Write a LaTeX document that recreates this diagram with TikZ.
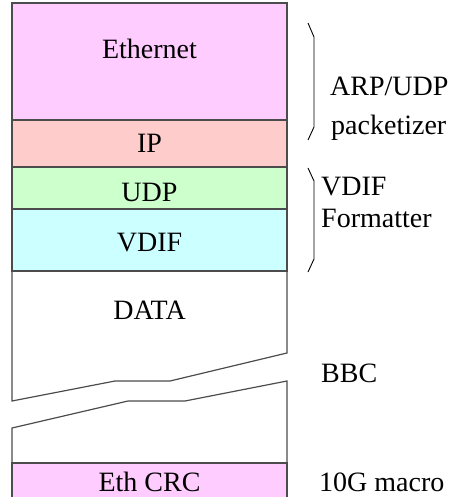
\documentclass[tikz,border=0pt]{standalone}
\usepackage{fontspec}
\setmainfont{Liberation Serif}
\usepackage{tikz}
\usetikzlibrary{positioning}

\definecolor{ethpink}{RGB}{255,204,255}
\definecolor{ippink}{RGB}{255,204,204}
\definecolor{udpgreen}{RGB}{204,255,204}
\definecolor{vdifcyan}{RGB}{204,255,255}

\tikzset{
  layer/.style={draw=black!70, line width=1.2pt},
  brace/.style={draw=black, line width=0.9pt},
  lbl/.style={anchor=base, inner sep=0pt, font=\fontsize{28}{30}\selectfont},
  side/.style={anchor=base west, inner sep=0pt, font=\fontsize{28}{30}\selectfont}
}

\begin{document}
\begin{tikzpicture}[x=1pt,y=1pt,yscale=-1,xscale=1]
\useasboundingbox (0,0) rectangle (451,497);

%Shape: Rectangle [Ethernet]
\draw [layer, fill=ethpink] (12,3) rectangle (287,120) ;
%Shape: Rectangle [IP]
\draw [layer, fill=ippink] (12,120) rectangle (287,167) ;
%Shape: Rectangle [UDP]
\draw [layer, fill=udpgreen] (12,167) rectangle (287,209) ;
%Shape: Rectangle [VDIF]
\draw [layer, fill=vdifcyan] (12,209) rectangle (287,271) ;
%Shape: DATA, upper part with break
\draw [layer] (12,271) -- (12,401) -- (115,381) -- (170,381) -- (287,353) -- (287,271) ;
%Shape: DATA, lower part with break
\draw [layer] (12,463) -- (12,428) -- (128,401) -- (185,401) -- (287,381) -- (287,463) ;
%Shape: Rectangle [Eth CRC]
\draw [layer, fill=ethpink] (12,463) rectangle (287,502) ;

%Brace: packetizer
\draw [brace] (308,23) -- (314,37) -- (314,127) -- (308,140) ;
%Brace: formatter
\draw [brace] (308,168) -- (314,181) -- (314,259) -- (308,272) ;

% Text Node
\node [lbl] (eth) at (149.5,59) {Ethernet};
% Text Node
\node [lbl] (ip) at (149.5,153) {IP};
% Text Node
\node [lbl] (udp) at (149.5,201) {UDP};
% Text Node
\node [lbl] (vdif) at (149.5,251) {VDIF};
% Text Node
\node [lbl] (data) at (149.5,319) {DATA};
% Text Node
\node [lbl] (crc) at (149.5,491) {Eth CRC};

% Text Node
\node [side] (arp) at (330,96) {ARP/UDP};
% Text Node
\node [side] (pkt) at (331,135) {packetizer};
% Text Node
\node [side] (fmt1) at (321,195) {VDIF};
% Text Node
\node [side] (fmt2) at (321,227) {Formatter};
% Text Node
\node [side] (bbc) at (321,382) {BBC};
% Text Node
\node [side] (mac) at (319,491) {10G macro};

\end{tikzpicture}
\end{document}
